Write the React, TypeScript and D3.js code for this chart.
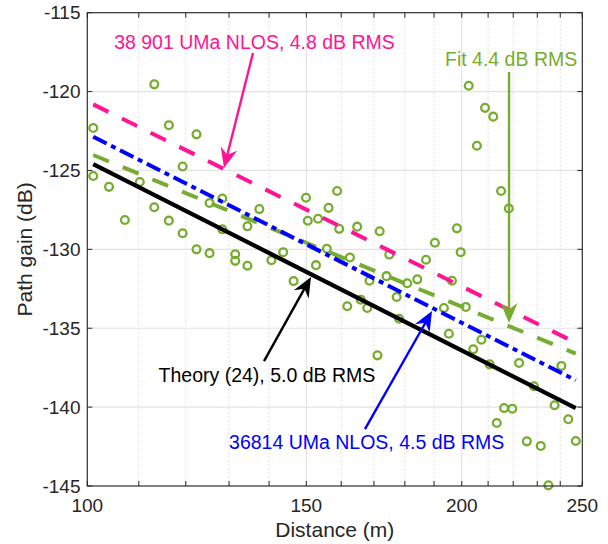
import React from "react";
import * as d3 from "d3";

// ---------- data ----------
const distances = [
  113.2, 101.1, 116.3, 122.4, 119.3, 101.1, 104.1, 110.2, 107.2, 113.2,
  116.3, 119.3, 125.4, 128.4, 128.4, 134.5, 137.5, 122.4, 125.4, 131.5,
  131.5, 134.5, 140.6, 143.7, 149.9, 158.8, 156.3, 150.4, 153.3, 159.4,
  164.8, 171.8, 155.8, 162.6, 174.9, 152.7, 146.5, 174.0, 168.6, 180.8,
  184.2, 187.2, 190.3, 198.2, 199.6, 202.6, 208.8, 212.0, 205.7, 215.1,
  218.2, 196.4, 161.8, 165.9, 167.9, 177.3, 178.1, 193.5, 201.5, 195.3,
  207.4, 204.3, 210.6, 222.4, 228.6, 240.5, 171.1, 216.3, 219.6, 213.4,
  237.5, 243.6, 225.6, 231.5, 247.0, 234.8,
];
const gains = [
  -119.54, -122.31, -122.13, -122.71, -124.75, -125.35, -126.04, -125.73, -128.14, -127.33,
  -128.18, -128.98, -127.06, -126.78, -128.73, -128.54, -127.45, -130.0, -130.24, -130.31,
  -130.73, -131.04, -130.69, -130.18, -126.73, -126.3, -127.37, -128.19, -128.06, -128.7,
  -128.56, -128.85, -129.96, -130.52, -130.33, -131.0, -132.01, -131.7, -131.99, -132.15,
  -131.9, -130.66, -129.58, -128.67, -130.18, -119.63, -121.03, -121.59, -123.43, -126.3,
  -127.41, -131.99, -133.61, -133.19, -133.72, -133.02, -134.4, -133.72, -133.65, -135.35,
  -135.73, -136.34, -137.29, -137.2, -138.68, -137.39, -136.72, -140.06, -140.1, -141.01,
  -139.88, -140.77, -142.17, -142.46, -142.15, -144.96,
];

const lineDistances = [101.1, 247];
const theoryGain = [-124.6, -140.06];
const uma38901Gain = [-120.81, -135.92];
const uma36814Gain = [-122.86, -138.3];
const fitGain = [-124.02, -136.61];

const xMajorTicks = [100, 150, 200, 250];
const xMinorTicks = [110, 120, 130, 140, 160, 170, 180, 190, 210, 220, 230, 240];
const yTicks = [-145, -140, -135, -130, -125, -120, -115];

// annotations
const annLabels = [
  "38 901 UMa NLOS, 4.8 dB RMS",
  "Fit 4.4 dB RMS",
  "Theory (24), 5.0 dB RMS",
  "36814 UMa NLOS, 4.5 dB RMS",
];
const annTextD = [105.1, 193.9, 114.1, 130.0];
const annTextG = [-117.27, -118.38, -138.41, -142.67];
const annTailD = [135.9, 218.3, 138.7, 167.2];
const annTailG = [-117.55, -118.76, -137.08, -141.39];
const annTipD = [128.8, 218.3, 151.3, 189.3];
const annTipG = [-124.84, -134.67, -131.75, -133.91];

// ---------- styles ----------
const PINK = "#ff1493";
const BLUE = "#0000ff";
const GREEN = "#77ac30";
const BLACK = "#000000";
const annColors = [PINK, GREEN, BLACK, BLUE];
const FONT = "'Liberation Sans', Arial, Helvetica, sans-serif";
const AX = "#262626";

const W = 608;
const H = 544;
const L = 87.3, R = 582.3, T = 12.7, B = 486;

export default function App() {
  const x = d3.scaleLog().domain([100, 250]).range([L, R]);
  const y = d3.scaleLinear().domain([-145, -115]).range([B, T]);
  const line = d3
    .line<number>()
    .x((_, i) => x(lineDistances[i]))
    .y((v) => y(v));

  const tickLen = 5;

  const arrowHead = (tx: number, ty: number, sx: number, sy: number, color: string) => {
    const ang = Math.atan2(ty - sy, tx - sx);
    const Lh = 20, Wh = 8.5, notch = 13.5;
    const pts = [
      [0, 0],
      [-Lh, Wh],
      [-notch, 0],
      [-Lh, -Wh],
    ].map(([px, py]) => {
      const c = Math.cos(ang), s = Math.sin(ang);
      return [tx + px * c - py * s, ty + px * s + py * c];
    });
    return <polygon points={pts.map((p) => p.join(",")).join(" ")} fill={color} />;
  };

  return (
    <svg
      width={W}
      height={H}
      style={{ position: "absolute", left: 0, top: 0, background: "#fff" }}
      fontFamily={FONT}
    >
      <rect x={0} y={0} width={W} height={H} fill="#fff" />
      {/* minor grid */}
      {xMinorTicks.map((t) => (
        <line key={"mg" + t} x1={x(t)} x2={x(t)} y1={T} y2={B} stroke="#d4d4d4" strokeWidth={1} strokeDasharray="1.5 2.5" />
      ))}
      {/* major grid */}
      {xMajorTicks.map((t) => (
        <line key={"gx" + t} x1={x(t)} x2={x(t)} y1={T} y2={B} stroke="#e3e3e3" strokeWidth={1.2} />
      ))}
      {yTicks.map((t) => (
        <line key={"gy" + t} x1={L} x2={R} y1={y(t)} y2={y(t)} stroke="#e3e3e3" strokeWidth={1.2} />
      ))}

      {/* data */}
      {distances.map((dv, i) => (
        <circle key={"c" + i} cx={x(dv)} cy={y(gains[i])} r={3.9} fill="none" stroke={GREEN} strokeWidth={2.3} />
      ))}

      {/* lines */}
      <path d={line(fitGain) || ""} fill="none" stroke={GREEN} strokeWidth={4} strokeDasharray="17 15" />
      <path d={line(uma38901Gain) || ""} fill="none" stroke={PINK} strokeWidth={4} strokeDasharray="17 15" />
      <path d={line(uma36814Gain) || ""} fill="none" stroke={BLUE} strokeWidth={4} strokeDasharray="15 5 5 5" />
      <path d={line(theoryGain) || ""} fill="none" stroke={BLACK} strokeWidth={4.3} />

      {/* annotations */}
      {annLabels.map((lab, i) => {
        const sx = x(annTailD[i]), sy = y(annTailG[i]);
        const tx = x(annTipD[i]), ty = y(annTipG[i]);
        const ang = Math.atan2(ty - sy, tx - sx);
        const ex = tx - Math.cos(ang) * 12, ey = ty - Math.sin(ang) * 12;
        return (
          <g key={"a" + i}>
            <line x1={sx} y1={sy} x2={ex} y2={ey} stroke={annColors[i]} strokeWidth={2.4} />
            {arrowHead(tx, ty, sx, sy, annColors[i])}
            <text x={x(annTextD[i])} y={y(annTextG[i])} fill={annColors[i]} fontSize={19.5}>
              {lab}
            </text>
          </g>
        );
      })}

      {/* axes box */}
      <rect x={L} y={T} width={R - L} height={B - T} fill="none" stroke={AX} strokeWidth={1.1} />
      {/* ticks */}
      {[...xMajorTicks, ...xMinorTicks].map((t) => (
        <g key={"tx" + t}>
          <line x1={x(t)} x2={x(t)} y1={B} y2={B - tickLen} stroke={AX} strokeWidth={1} />
          <line x1={x(t)} x2={x(t)} y1={T} y2={T + tickLen} stroke={AX} strokeWidth={1} />
        </g>
      ))}
      {yTicks.map((t) => (
        <g key={"ty" + t}>
          <line x1={L} x2={L + tickLen} y1={y(t)} y2={y(t)} stroke={AX} strokeWidth={1} />
          <line x1={R} x2={R - tickLen} y1={y(t)} y2={y(t)} stroke={AX} strokeWidth={1} />
        </g>
      ))}
      {/* tick labels */}
      {xMajorTicks.map((t) => (
        <text key={"lx" + t} x={x(t)} y={512} textAnchor="middle" fill={AX} fontSize={19}>
          {t}
        </text>
      ))}
      {yTicks.map((t) => (
        <text key={"ly" + t} x={80.5} y={y(t)} dy="0.35em" textAnchor="end" fill={AX} fontSize={19}>
          {t}
        </text>
      ))}
      {/* axis labels */}
      <text x={(L + R) / 2} y={536.5} textAnchor="middle" fill={AX} fontSize={21}>
        Distance (m)
      </text>
      <text
        transform={`translate(32, ${(T + B) / 2}) rotate(-90)`}
        textAnchor="middle"
        fill={AX}
        fontSize={21}
      >
        Path gain (dB)
      </text>
    </svg>
  );
}
